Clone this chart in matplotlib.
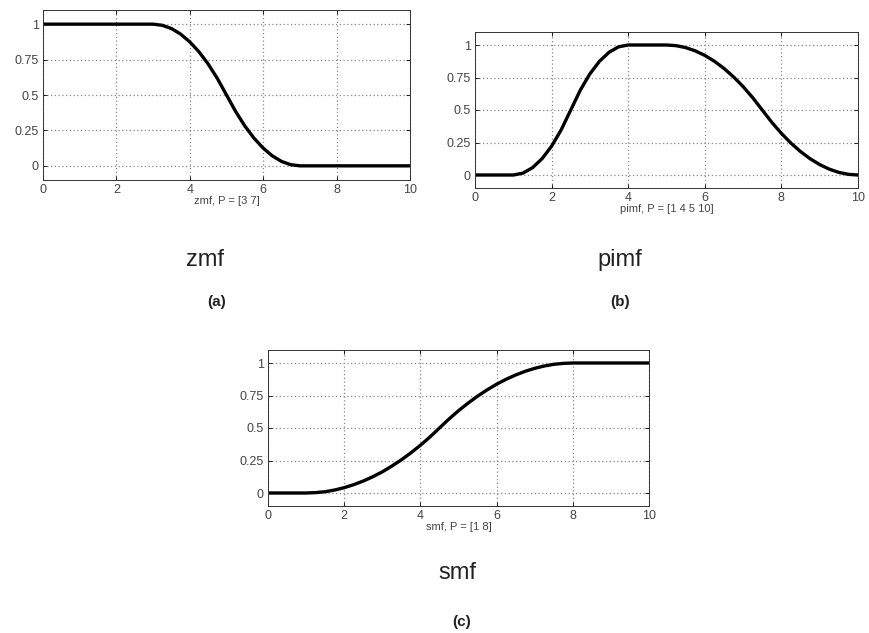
import matplotlib
matplotlib.use('Agg')
import matplotlib.pyplot as plt

plt.rcParams['font.family'] = ['Liberation Sans', 'DejaVu Sans']

# values
zmf_x = [0, 3, 3.25, 3.5, 3.75, 4, 4.25, 4.5, 4.75, 5, 5.25, 5.5, 5.75, 6, 6.25, 6.5, 6.75, 7, 10]
zmf_y = [1, 1, 0.992, 0.969, 0.930, 0.875, 0.805, 0.719, 0.617, 0.5, 0.383, 0.281, 0.195, 0.125, 0.070, 0.031, 0.008, 0, 0]

pimf_x = [0, 1, 1.25, 1.5, 1.75, 2, 2.25, 2.5, 2.75, 3, 3.25, 3.5, 3.75, 4, 5,
          5.25, 5.5, 5.75, 6, 6.25, 6.5, 6.75, 7, 7.25, 7.5, 7.75, 8, 8.25, 8.5, 8.75, 9, 9.25, 9.5, 9.75, 10]
pimf_y = [0, 0, 0.014, 0.056, 0.125, 0.222, 0.347, 0.5, 0.653, 0.778, 0.875, 0.944, 0.986, 1, 1,
          0.995, 0.98, 0.955, 0.92, 0.875, 0.82, 0.755, 0.68, 0.595, 0.5, 0.405, 0.32, 0.245, 0.18, 0.125, 0.08, 0.045, 0.02, 0.005, 0]

smf_x = [0, 1, 1.25, 1.5, 1.75, 2, 2.25, 2.5, 2.75, 3, 3.25, 3.5, 3.75, 4, 4.25, 4.5,
         4.75, 5, 5.25, 5.5, 5.75, 6, 6.25, 6.5, 6.75, 7, 7.25, 7.5, 7.75, 8, 10]
smf_y = [0, 0, 0.003, 0.010, 0.023, 0.041, 0.064, 0.092, 0.125, 0.163, 0.207, 0.255, 0.309, 0.367, 0.431, 0.5,
         0.569, 0.633, 0.691, 0.745, 0.793, 0.837, 0.875, 0.908, 0.936, 0.959, 0.977, 0.990, 0.997, 1, 1]

x_ticks = [0, 2, 4, 6, 8, 10]
y_ticks = [0, 0.25, 0.5, 0.75, 1]
y_tick_labels = ['0', '0.25', '0.5', '0.75', '1']

W, H = 869, 633
fig = plt.figure(figsize=(W / 100, H / 100), dpi=100)


def px_axes(l, t, r, b):
    return fig.add_axes([l / W, 1 - b / H, (r - l) / W, (b - t) / H])


def draw(ax, x, y, label):
    ax.plot(x, y, color='black', lw=2.4, solid_joinstyle='round')
    ax.set_xlim(0, 10)
    ax.set_ylim(-0.1, 1.1)
    ax.set_xticks(x_ticks)
    ax.set_yticks(y_ticks)
    ax.set_yticklabels(y_tick_labels)
    ax.tick_params(direction='in', length=3, labelsize=9, labelcolor='#444444', width=0.6, pad=3,
                   top=True, right=True)
    ax.grid(True, linestyle=(0, (1, 2)), color='#888888', lw=0.9)
    for s in ax.spines.values():
        s.set_linewidth(0.7)
        s.set_color('#333333')
    ax.set_xlabel(label, fontsize=8, color='#444444', labelpad=0)


ax1 = px_axes(43, 10, 410, 180)
draw(ax1, zmf_x, zmf_y, 'zmf, P = [3 7]')

ax2 = px_axes(475, 32, 858, 188)
draw(ax2, pimf_x, pimf_y, 'pimf, P = [1 4 5 10]')

ax3 = px_axes(268, 350, 649, 506)
draw(ax3, smf_x, smf_y, 'smf, P = [1 8]')

fig.text(205 / W, 1 - 260 / H, 'zmf', fontsize=17, ha='center', va='center', color='#222222')
fig.text(620 / W, 1 - 260 / H, 'pimf', fontsize=17, ha='center', va='center', color='#222222')
fig.text(457 / W, 1 - 573 / H, 'smf', fontsize=17, ha='center', va='center', color='#222222')
fig.text(217 / W, 1 - 302 / H, '(a)', fontsize=11, ha='center', va='center', fontweight='bold', color='#222222')
fig.text(620 / W, 1 - 302 / H, '(b)', fontsize=11, ha='center', va='center', fontweight='bold', color='#222222')
fig.text(462 / W, 1 - 622 / H, '(c)', fontsize=11, ha='center', va='center', fontweight='bold', color='#222222')

fig.savefig('out.png', dpi=100)
